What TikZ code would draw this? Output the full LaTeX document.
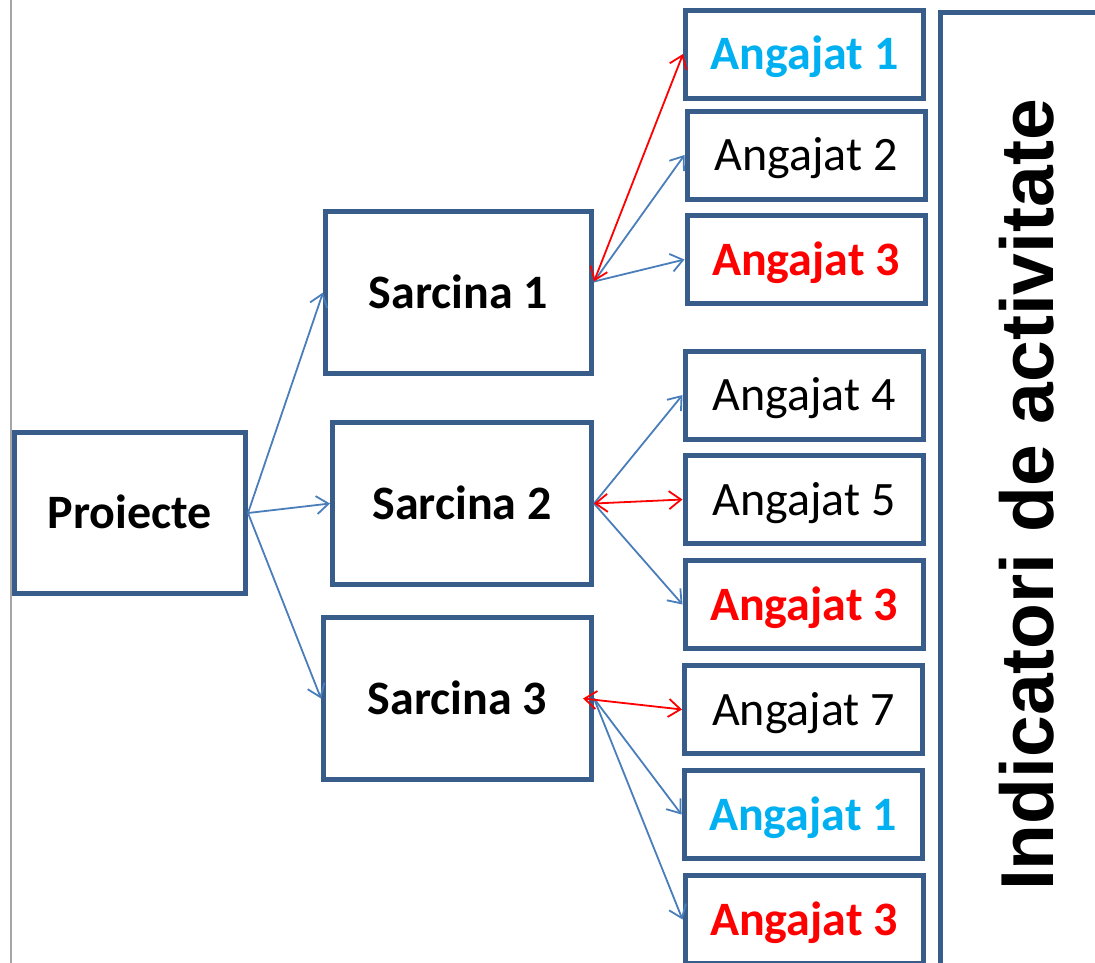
\documentclass[tikz,border=0pt]{standalone}
\usepackage{fontspec}
\setmainfont{Carlito}
\newfontfamily\arialfont{Liberation Sans}
\usetikzlibrary{arrows.meta}
\definecolor{boxline}{RGB}{56,93,138}
\definecolor{conblue}{RGB}{74,126,187}
\definecolor{lightbluetxt}{RGB}{0,176,240}
\definecolor{pagegray}{RGB}{165,165,165}
\tikzset{
  bigbox/.style={draw=boxline, line width=5pt, rectangle, inner sep=0pt, fill=white,
    text height=31pt, text depth=0pt,
    font=\fontsize{48}{52}\selectfont\bfseries},
  empbox/.style={draw=boxline, line width=5pt, rectangle, inner sep=0pt, fill=white,
    text height=31pt, text depth=0pt,
    minimum width=238pt, minimum height=88pt, font=\fontsize{48}{52}\selectfont},
  empbold/.style={empbox, font=\fontsize{48}{52}\selectfont\bfseries},
  bluecon/.style={draw=conblue, line width=1.8pt, -{Straight Barb[length=12pt,width=18pt]}},
  redcon/.style={draw=red, line width=1.8pt, {Straight Barb[length=12pt,width=18pt]}-{Straight Barb[length=12pt,width=18pt]}},
}
\begin{document}
\begin{tikzpicture}[x=1pt,y=-1pt]
\useasboundingbox[fill=white] (0,0) rectangle (1095,962);
\draw[pagegray, line width=2.5pt] (11,-5) -- (11,970);
% indicator box
\draw[boxline, line width=5pt] (1200,12.5) -- (940.5,12.5) -- (940.5,1000);
\node[rotate=90, font=\arialfont\fontsize{75}{80}\selectfont\bfseries] (ind) at (1027,495) {Indicatori de activitate};
% main boxes
\node[bigbox, minimum width=231pt, minimum height=161pt] (P) at (130,513) {Proiecte};
\node[bigbox, minimum width=266pt, minimum height=162pt] (S1) at (458.5,292.5) {Sarcina 1};
\node[bigbox, minimum width=259pt, minimum height=162pt] (S2) at (462,503.5) {Sarcina 2};
\node[bigbox, minimum width=268pt, minimum height=162pt] (S3) at (457.5,698.5) {Sarcina 3};
% employee boxes
\node[empbold, text=lightbluetxt] (A1a) at (804.5,54) {Angajat 1};
\node[empbox] (A2) at (806,155) {Angajat 2};
\node[empbold, text=red] (A3a) at (806,259.5) {Angajat 3};
\node[empbox] (A4) at (804,395) {Angajat 4};
\node[empbox] (A5) at (804,499.5) {Angajat 5};
\node[empbold, text=red] (A3b) at (804,604.5) {Angajat 3};
\node[empbox] (A7) at (803.5,709.5) {Angajat 7};
\node[empbold, text=lightbluetxt] (A1b) at (803,814.5) {Angajat 1};
\node[empbold, text=red] (A3c) at (804,919.5) {Angajat 3};
% connection points
\coordinate (s1o) at ([yshift=11pt]S1.east);
\coordinate (s3r) at ([xshift=-11pt]S3.east);
% connectors
\draw[bluecon] (P.east) -- (S1.west);
\draw[bluecon] (P.east) -- (S2.west);
\draw[bluecon] (P.east) -- (S3.west);
\draw[bluecon] (s1o) -- (A2.west);
\draw[bluecon] (s1o) -- (A3a.west);
\draw[redcon] (s1o) -- (A1a.west);
\draw[bluecon] (S2.east) -- (A4.west);
\draw[bluecon] (S2.east) -- (A3b.west);
\draw[redcon] (S2.east) -- (A5.west);
\draw[bluecon] (S3.east) -- (A1b.west);
\draw[bluecon] (S3.east) -- (A3c.west);
\draw[redcon] (s3r) -- (A7.west);
\end{tikzpicture}
\end{document}
